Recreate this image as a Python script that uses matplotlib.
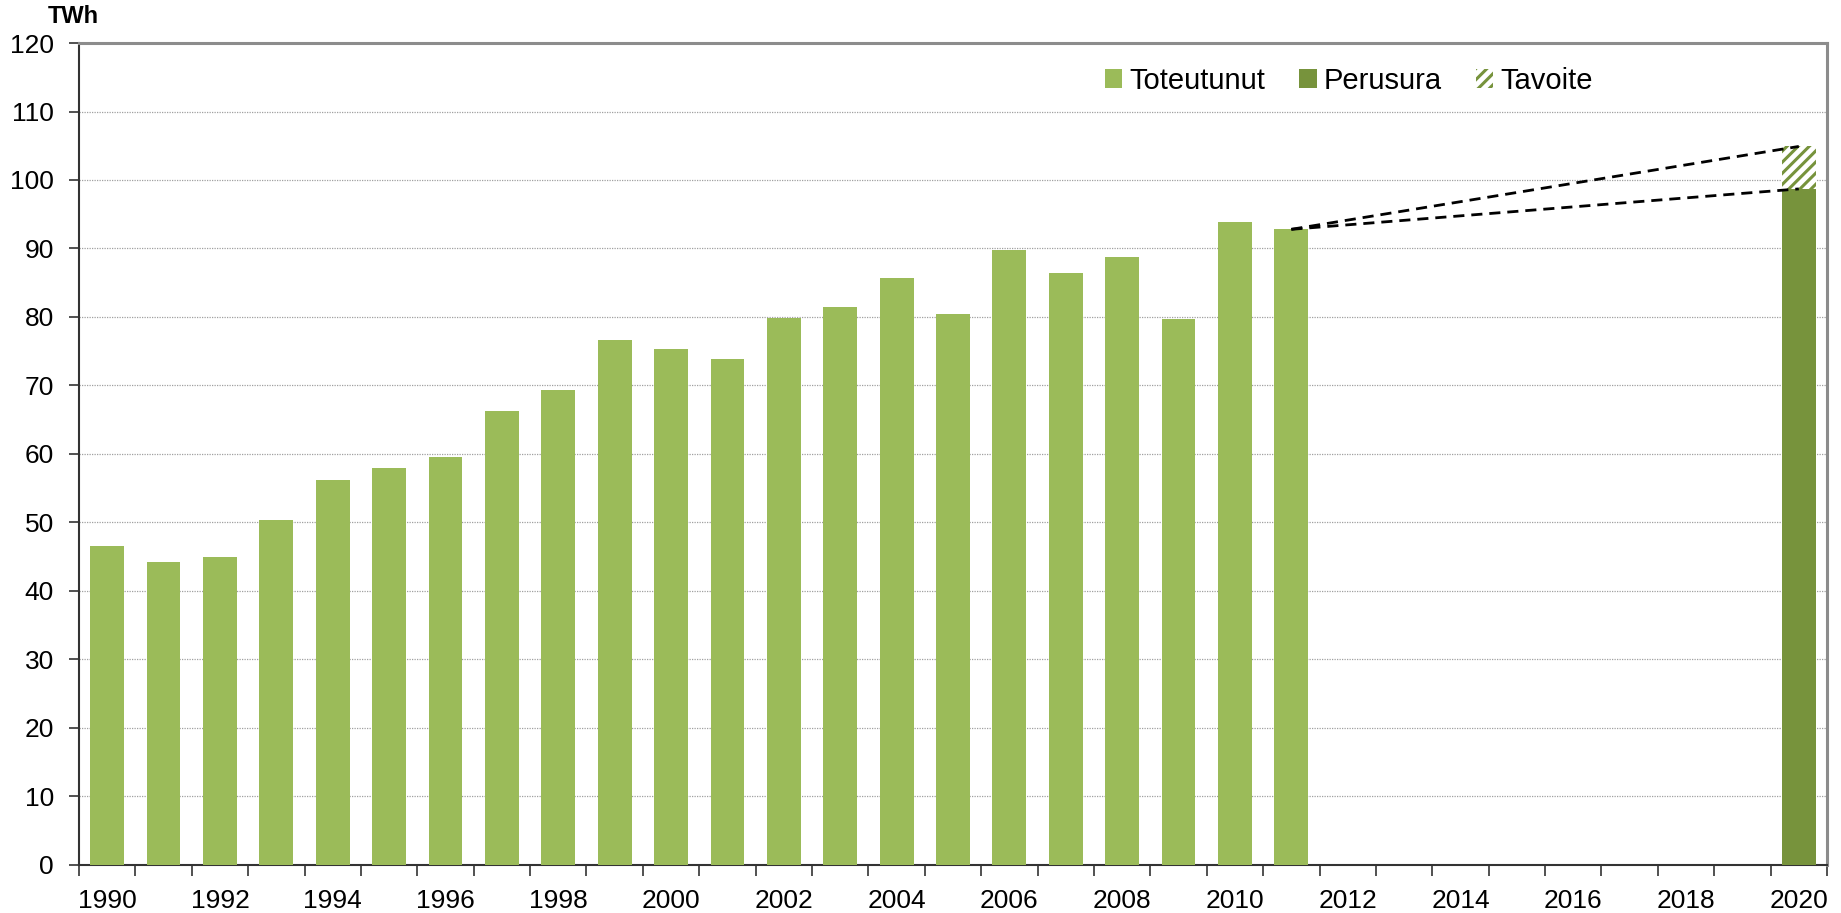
"""
Uusiutuvan energian käyttö 1990–2011 sekä perusura ja tavoite 2020 (TWh).
"""

import matplotlib

matplotlib.use("Agg")
import matplotlib.pyplot as plt
import numpy as np

plt.rcParams["font.family"] = ["Liberation Sans", "DejaVu Sans"]
plt.rcParams["hatch.linewidth"] = 2.2

# --- data ---------------------------------------------------------------
years = list(range(1990, 2021))
toteutunut_years = list(range(1990, 2012))
toteutunut = [46.6, 44.2, 44.9, 50.4, 56.2, 57.9, 59.5, 66.3, 69.4, 76.6,
              75.4, 73.9, 79.9, 81.4, 85.7, 80.4, 89.8, 86.4, 88.8, 79.7,
              93.9, 92.8]
perusura_year = 2020
perusura = 98.7
tavoite = 6.2          # lisäys perusuran päälle
tick_labels = [str(y) if y % 2 == 0 else "" for y in years]
y_ticks = list(range(0, 121, 10))

LIGHT = "#9BBB59"
DARK = "#77933C"

fig = plt.figure(figsize=(18.41, 9.13), dpi=100)
ax = fig.add_axes([0.0429, 0.0526, 0.9495, 0.9003])

pos = {y: i for i, y in enumerate(years)}
x_tot = [pos[y] for y in toteutunut_years]
x_2020 = pos[perusura_year]

ax.bar(x_tot, toteutunut, width=0.6, color=LIGHT, linewidth=0, label="Toteutunut", zorder=3)
ax.bar([x_2020], [perusura], width=0.6, color=DARK, linewidth=0, label="Perusura", zorder=3)
ax.bar([x_2020], [tavoite], bottom=[perusura], width=0.6, facecolor="white",
       edgecolor=DARK, hatch="///", linewidth=0, label="Tavoite", zorder=3)

# katkoviivat viimeisestä toteumasta vuoteen 2020
last_x, last_y = x_tot[-1], toteutunut[-1]
for end_y in (perusura, perusura + tavoite):
    ax.plot([last_x, x_2020], [last_y, end_y], color="black", lw=2.0,
            linestyle=(0, (4, 2.5)), zorder=4)

# axes
ax.set_xlim(-0.5, len(years) - 0.5)
ax.set_ylim(0, 120)
ax.set_yticks(y_ticks)
ax.set_xticks(range(len(years)))
ax.set_xticklabels(tick_labels)
ax.set_xticks(np.arange(-0.5, len(years), 1.0), minor=True)
ax.tick_params(axis="x", which="major", length=0, labelsize=19, pad=17)
ax.tick_params(axis="x", which="minor", length=8, width=1.2, color="#333333")
ax.tick_params(axis="y", length=7, width=1.2, color="#333333", labelsize=19, pad=11)

ax.grid(axis="y", color="#a0a0a0", linestyle=(0, (1, 1)), lw=0.9, zorder=0)
for side in ("left", "bottom"):
    ax.spines[side].set_color("#333333")
    ax.spines[side].set_linewidth(1.5)
for side in ("top", "right"):
    ax.spines[side].set_color("#8c8c8c")
    ax.spines[side].set_linewidth(2.2)

fig.text(0.026, 0.982, "TWh", fontsize=17, fontweight="bold", va="center", ha="left")

ax.legend(loc="center", bbox_to_anchor=(0.7265, 0.954), ncol=3, frameon=False,
          fontsize=21, handlelength=0.6, handleheight=0.6, handletextpad=0.25,
          columnspacing=1.15)

fig.savefig("out.png", dpi=100)
